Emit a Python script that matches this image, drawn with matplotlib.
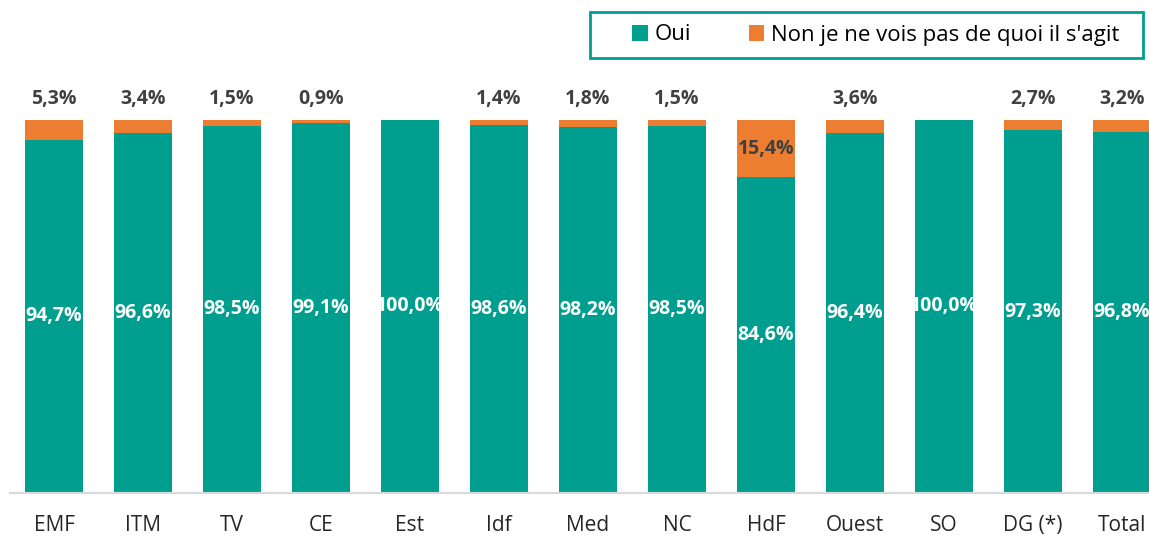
import matplotlib.pyplot as plt
from matplotlib.patches import Rectangle
import numpy as np

categories = ["EMF", "ITM", "TV", "CE", "Est", "Idf", "Med", "NC", "HdF", "Ouest", "SO", "DG (*)", "Total"]
oui = [94.7, 96.6, 98.5, 99.1, 100.0, 98.6, 98.2, 98.5, 84.6, 96.4, 100.0, 97.3, 96.8]
non = [5.3, 3.4, 1.5, 0.9, 0.0, 1.4, 1.8, 1.5, 15.4, 3.6, 0.0, 2.7, 3.2]

teal = '#009E8E'
orange = '#ED7D31'
dark = '#404040'

plt.rcParams['font.family'] = ['Open Sans', 'DejaVu Sans']

W, H = 1149, 537
fig = plt.figure(figsize=(W / 100, H / 100), dpi=100)
# axes span x = -0.5 .. 12.5 ; right part runs off the figure like the original
x0 = 9.5 / W
x1 = (54 + 12.5 * 89) / W
y0 = 1 - 493 / H
y1 = 1 - 120 / H
ax = fig.add_axes([x0, y0, x1 - x0, y1 - y0])

x = np.arange(len(categories))
oui = np.array(oui)
non = np.array(non)
bw = 0.66
ax.bar(x, oui, width=bw, color=teal, label='Oui')
ax.bar(x, non, width=bw, bottom=oui, color=orange, label="Non je ne vois pas de quoi il s'agit")

fs = 14
for i in range(len(x)):
    ax.text(x[i], oui[i] / 2, f"{oui[i]:.1f}%".replace('.', ','), ha='center', va='center',
            color='white', fontsize=fs, fontweight='bold')
    if non[i] > 0:
        lab = f"{non[i]:.1f}%".replace('.', ',')
        if non[i] > 10:
            ax.text(x[i], oui[i] + non[i] / 2, lab, ha='center', va='center',
                    color=dark, fontsize=fs, fontweight='bold')
        else:
            ax.text(x[i], 105.5, lab, ha='center', va='center',
                    color=dark, fontsize=fs, fontweight='bold', clip_on=False)

ax.set_xlim(-0.5, 12.5)
ax.set_ylim(0, 100)
ax.set_xticks(x)
ax.set_xticklabels(categories, fontsize=15, color='#262626')
ax.tick_params(axis='x', length=0, pad=16)
ax.set_yticks([])
for s in ['top', 'right', 'left']:
    ax.spines[s].set_visible(False)
ax.spines['bottom'].set_color('#D9D9D9')
ax.spines['bottom'].set_linewidth(1.5)

# legend box drawn by hand, legend entries centred inside
fig.patches.append(Rectangle((590 / W, 1 - 58 / H), (1143 - 590) / W, 46 / H,
                             transform=fig.transFigure, fill=False,
                             edgecolor=teal, linewidth=2))
fig.legend(loc='center', bbox_to_anchor=(876 / W, 1 - 35 / H), ncol=2,
           fontsize=16, frameon=False, handlelength=0.7, handleheight=0.7,
           handletextpad=0.3, columnspacing=2.6, borderaxespad=0)

fig.savefig('out.png', dpi=100)
